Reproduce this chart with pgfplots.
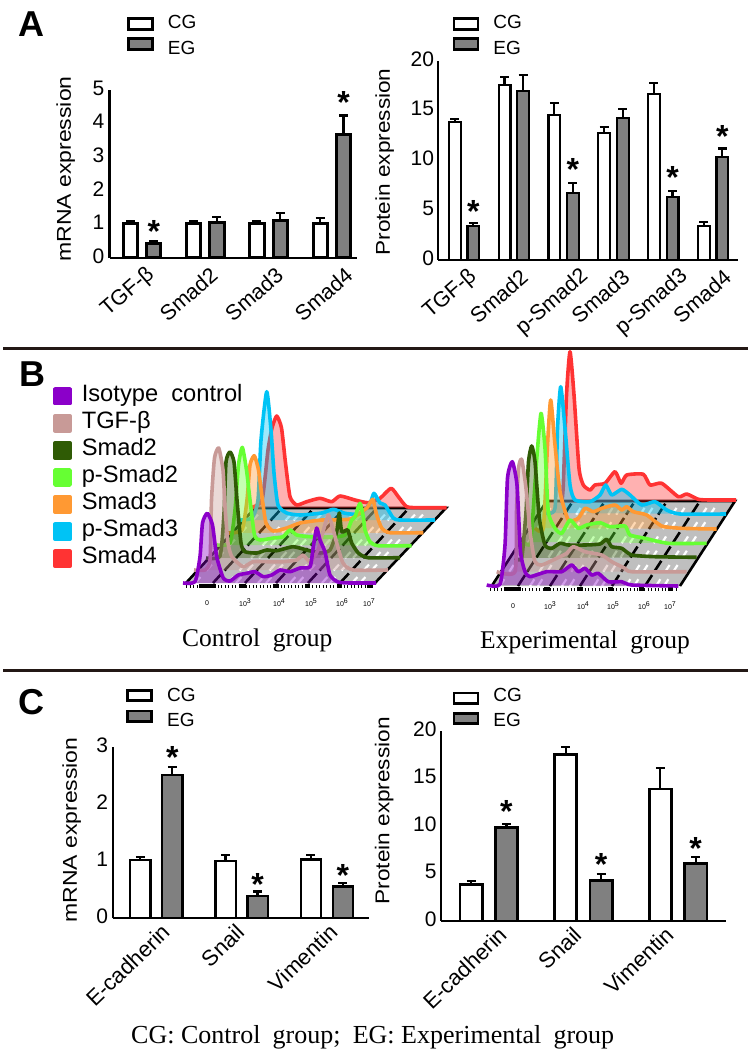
\documentclass[border=0pt]{standalone}
\usepackage{fontspec}
\usepackage{pgfplots}
\pgfplotsset{compat=1.18}
\setmainfont{Liberation Sans}
\newfontfamily\timesf{Liberation Serif}
\newcommand{\fs}[1]{\fontsize{#1}{#1}\selectfont}
\definecolor{cPur}{HTML}{8B00C9}
\definecolor{cTgf}{HTML}{C89A97}
\definecolor{cDkg}{HTML}{2F5B05}
\definecolor{cGrn}{HTML}{66FF33}
\definecolor{cOrg}{HTML}{FF9933}
\definecolor{cCya}{HTML}{00C3F5}
\definecolor{cRed}{HTML}{FF3333}
\definecolor{cBar}{HTML}{808080}
\definecolor{cRule}{HTML}{231815}
\pgfplotsset{
 legbox/.style 2 args={legend image code/.code={\draw[line width=2.8pt,draw=black,##1] (1pt,#1) rectangle (25pt,#2);}},
 barax/.style={scale only axis, clip=false, axis lines=left, axis line style={line width=2.3pt,-},
   ymin=0, major tick length=0pt, ybar,
   ticklabel style={font=\fs{21}},
   /pgf/number format/assume math mode=true,
   yticklabel style={inner sep=0pt,xshift=-5pt,yshift=2pt},
   xticklabel style={font=\fs{21.5},rotate=41,anchor=east,inner sep=0pt,yshift=-18pt},
   legend style={draw=none,fill=none,inner sep=0pt,row sep=6pt,font=\fs{19},
     nodes={inner sep=0pt,text height=14pt,text depth=0pt},
     /tikz/every odd column/.append style={column sep=14pt},legend cell align=left,anchor=north west},
   error bars/y dir=plus, error bars/y explicit,
   error bars/error bar style={line width=2.2pt,black},
   error bars/error mark options={black,line width=2.2pt,mark size=4.5pt,rotate=90}},
 hist/.style={scale only axis,hide axis,clip=false,at={(0pt,0pt)},anchor=south west,width=750pt,height=1052pt,
   xmin=0,xmax=750,ymin=0,ymax=1052,y dir=reverse,unbounded coords=jump},
 cur/.style={draw=#1,fill=#1,fill opacity=.38,line width=3.6pt,smooth,tension=.35,line join=round,
   legend image code/.code={\fill[#1,fill opacity=1] (0pt,-8pt) rectangle (15pt,7pt);}},
 hatchw/.style={forget plot,white,line width=2.2pt,dash pattern=on 8pt off 9pt},
 hatchk/.style={forget plot,black,line width=2.6pt,dash pattern=on 13pt off 4pt}
}
\newcommand{\sstar}[2]{\node[inner sep=0pt,anchor=base,yshift=-15pt,font=\fs{32}\bfseries] at (axis cs:#1,#2) {*};}
\newcommand{\letter}[3]{\node[inner sep=0pt,anchor=base west,font=\fs{36}\bfseries] at (#1pt,#2pt) {#3};}
\begin{document}
\begin{tikzpicture}[x=1pt,y=1pt]
\useasboundingbox (0,0) rectangle (750,1052);
\draw[cRule,line width=3pt] (3,703) -- (748,703);
\draw[cRule,line width=3pt] (3,381) -- (748,381);
\letter{18}{1015}{A}
\letter{19}{665}{B}
\letter{18}{337}{C}

% ---------- A left
\begin{axis}[barax,at={(109.5pt,794pt)},anchor=south west,width=247.5pt,height=168pt,
  xmin=-.513,xmax=3.397,ymax=5,ytick={0,1,2,3,4,5},
  xtick={-.036,.956,1.99,3.09},xticklabels={TGF-β,Smad2,Smad3,Smad4},
  ylabel={\scalebox{1.15}[1]{\fs{20}mRNA expression}},
  ylabel style={at={(-.177,.53)},anchor=center},
  legend style={at={(.07,1.452)}}]
\addplot[legbox={-8.3pt}{2.9pt},bar shift=-11.7pt,bar width=14.3pt,draw=black,fill=white,line width=3pt]
 coordinates {(0,1.02) +- (0,.07) (1,1.02) +- (0,.08) (2,1.02) +- (0,.07) (3,1.04) +- (0,.15)};
\addplot[legbox={-2.3pt}{8.9pt},bar shift=11.7pt,bar width=14.3pt,draw=black,fill=cBar,line width=3pt]
 coordinates {(0,.43) +- (0,.07) (1,1.06) +- (0,.16) (2,1.12) +- (0,.22) (3,3.69) +- (0,.55)};
\legend{CG,EG}
\sstar{.187}{.92}\sstar{3.187}{4.75}
\end{axis}

% ---------- A right
\begin{axis}[barax,at={(438.3pt,792pt)},anchor=south west,width=299.7pt,height=199pt,
  xmin=-.516,xmax=5.502,ymax=20,ytick={0,5,10,15,20},
  xtick={-.04,.98,2.2,3.02,4.2,5.06},xticklabels={TGF-β,Smad2,p-Smad2,Smad3,p-Smad3,Smad4},
  ylabel={\scalebox{1.13}[1]{\fs{20}Protein expression}},
  ylabel style={at={(-.179,.4925)},anchor=center},
  yticklabel style={xshift=1pt},
  legend style={at={(.047,1.2364)}}]
\addplot[legbox={-8.3pt}{2.9pt},bar shift=-9.3pt,bar width=11.8pt,draw=black,fill=white,line width=2.2pt]
 coordinates {(0,13.84) +- (0,.33) (1,17.6) +- (0,.76) (2,14.6) +- (0,1.15) (3,12.76) +- (0,.57) (4,16.7) +- (0,1.1) (5,3.42) +- (0,.38)};
\addplot[legbox={-2.3pt}{8.9pt},bar shift=9.3pt,bar width=11.8pt,draw=black,fill=cBar,line width=2.2pt]
 coordinates {(0,3.45) +- (0,.3) (1,17) +- (0,1.6) (2,6.7) +- (0,1.07) (3,14.24) +- (0,.96) (4,6.37) +- (0,.56) (5,10.35) +- (0,.85)};
\legend{CG,EG}
\sstar{.187}{5.3}\sstar{2.187}{9.48}\sstar{4.187}{8.7}\sstar{5.187}{12.83}
\end{axis}

% ---------- C left
\begin{axis}[barax,at={(113.3pt,133.7pt)},anchor=south west,width=255.7pt,height=171pt,
  xmin=-.504,xmax=2.494,ymax=3,ytick={0,1,2,3},
  xtick={.02,.89,1.98},xticklabels={E-cadherin,Snail,Vimentin},
  xticklabel style={font=\fs{22},rotate=3,yshift=5pt},
  ylabel={\scalebox{1.15}[1]{\fs{20}mRNA expression}},
  ylabel style={at={(-.163,.516)},anchor=center},
  legend style={row sep=7.5pt,at={(.05,1.349)}}]
\addplot[legbox={-5.9pt}{4.6pt},bar shift=-16pt,bar width=20.3pt,draw=black,fill=white,line width=2.4pt]
 coordinates {(0,1.02) +- (0,.06) (1,1.01) +- (0,.1) (2,1.035) +- (0,.07)};
\addplot[legbox={-1.6pt}{8.9pt},bar shift=16pt,bar width=20.3pt,draw=black,fill=cBar,line width=2.4pt]
 coordinates {(0,2.51) +- (0,.15) (1,.39) +- (0,.08) (2,.555) +- (0,.06)};
\legend{CG,EG}
\sstar{.187}{2.89}\sstar{1.187}{.66}\sstar{2.187}{.82}
\end{axis}

% ---------- C right
\begin{axis}[barax,at={(440.7pt,131pt)},anchor=south west,width=285pt,height=190pt,
  xmin=-.508,xmax=2.504,ymax=20,ytick={0,5,10,15,20},
  xtick={.065,.853,1.823},xticklabels={E-cadherin,Snail,Vimentin},
  xticklabel style={font=\fs{22},rotate=3,yshift=5pt},
  ylabel={\scalebox{1.13}[1]{\fs{20}Protein expression}},
  ylabel style={at={(-.198,.58)},anchor=center},
  yticklabel style={xshift=1pt},
  legend style={row sep=7pt,at={(.041,1.228)}}]
\addplot[legbox={-8.6pt}{1.9pt},bar shift=-17.7pt,bar width=22.3pt,draw=black,fill=white,line width=2.7pt]
 coordinates {(0,3.86) +- (0,.32) (1,17.5) +- (0,.8) (2,13.9) +- (0,2.24)};
\addplot[legbox={-4.3pt}{6.2pt},bar shift=17.7pt,bar width=22.3pt,draw=black,fill=cBar,line width=2.7pt]
 coordinates {(0,9.86) +- (0,.32) (1,4.25) +- (0,.7) (2,6.04) +- (0,.66)};
\legend{CG,EG}
\sstar{.187}{11.93}\sstar{1.187}{6.42}\sstar{2.187}{8.1}
\end{axis}

% ---------- B left group (page-pixel coordinates)
\begin{axis}[hist,reverse legend,
  legend style={at={(53/750,1-385/1052)},anchor=north west,draw=none,fill=none,inner sep=0pt,row sep=6.1pt,font=\fs{23.7},
   nodes={inner sep=0pt,text height=16pt,text depth=5pt},/tikz/every odd column/.append style={column sep=10pt},legend cell align=left}]
\addplot[forget plot,draw=none,fill=black!25] coordinates {(186,583) (375,583) (446,508) (255,508)};
\addplot[hatchw] coordinates {
 (195,583) (264,508) (nan,nan) (228,583) (297,508) (nan,nan) (236,583) (305,508) (nan,nan) (258,583) (327,508) (nan,nan) (266,583) (335,508) (nan,nan)
 (290,583) (359,508) (nan,nan) (298,583) (367,508) (nan,nan) (322,583) (391,508) (nan,nan) (330,583) (399,508) (nan,nan) (352,583) (421,508) (nan,nan) (360,583) (429,508)};
\addplot[hatchk] coordinates {
 (213,583) (282,508) (nan,nan) (245,583) (314,508) (nan,nan) (276,583) (345,508) (nan,nan) (308,583) (377,508) (nan,nan) (340,583) (409,508)};
\addplot[forget plot,black,line width=2.6pt] coordinates {(186,583) (255,508) (446,508) (375,583)};
\addplot[forget plot,black,line width=3pt,dash pattern=on 1pt off 2.5pt] coordinates {(186,586) (375,586)};
\addplot[forget plot,black,line width=4pt] coordinates {(199,586) (216,586)};
\addplot[forget plot,black,line width=4pt] coordinates {(239,586) (246,586) (nan,nan) (273,586) (279,586) (nan,nan) (305,586) (310,586) (nan,nan) (337,586) (342,586) (nan,nan) (367,586) (372,586)};
\addplot[cur=cRed] coordinates {(250,508) (262,500) (268,450) (272,428) (276.7,416) (281.5,428) (285.5,463) (290,496.7) (296.7,505) (306.7,501.7) (320,498.3) (331.7,501.7) (340,496) (355,500) (368,502.7) (380,498.3) (391,488.3) (398.3,496.7) (406.7,506.7) (420,507.7) (446.7,507.7)};
\addplot[cur=cCya] coordinates {(240,520) (252,518) (258,500) (261,440) (266.7,391.7) (271,430) (274,473) (278,505) (286.7,513) (300,515) (321.7,513) (333.3,509.3) (345,513.3) (360,514) (370,503.3) (374,493.3) (380,503) (385,505) (393.3,518) (400,520) (435,520)};
\addplot[cur=cOrg] coordinates {(228,533) (242,530) (247,500) (250,465) (254.3,455.7) (258.5,470) (262,496.7) (266,523) (273.3,531) (286.7,528) (300,523) (321.7,520) (350,519) (366.7,508) (372.7,499.3) (376.7,515) (381.7,528) (390,532.7) (423.3,532.7)};
\addplot[cur=cGrn] coordinates {(217,545) (230,543) (235,510) (238.5,465) (242.3,447.3) (246.5,470) (250,500) (254.5,535) (260,540) (273.3,538) (283,536.7) (290,530) (296.7,535) (310,536.7) (330,537) (345,535) (351.7,520) (355,516.7) (360,503.3) (363.3,516.7) (365,530) (370,541.7) (378,545.7) (411.7,545.7)};
\addplot[cur=cDkg] coordinates {(206,558) (220,556) (224,513) (226,462) (230,452) (234,462) (237,500) (241,543) (245,551.7) (256.7,553) (266.7,550) (276.7,550.7) (293,546.7) (306.7,550) (320,553) (330,550) (336.7,531.7) (339.3,513) (341.7,531.7) (347.7,530) (351.7,543) (358.3,553) (368,557.7) (400,557.7)};
\addplot[cur=cTgf] coordinates {(194,570) (205,570) (210,560) (211.5,500) (214.5,458) (218.7,448) (223,470) (225,507) (228,543) (232,557) (243,566.7) (253,561.7) (266.7,561.7) (283,561.7) (296.7,560) (303,555) (310,561.7) (318,550) (323,531.7) (328.3,515) (333.3,530) (336.7,543) (343,563) (353,570) (388,570)};
\addplot[cur=cPur] coordinates {(183,583) (195,581.7) (200,556.7) (202.5,523) (207.3,513.3) (212.5,525) (216.7,556.7) (223.3,578) (230,581) (238.3,575) (246.7,573.3) (255,571.7) (263.3,576.7) (271.7,575) (280,570) (290,571.7) (300,568) (310,566.7) (313.3,546.7) (316.7,528) (320,540) (325,552) (330,575) (338,582) (350,583) (376,583)};
\legend{Smad4,p-Smad3,Smad3,p-Smad2,Smad2,TGF-β,Isotype\ \ control}
\node[font=\fs{7}] at (axis cs:207,603) {0};
\node[font=\fs{7}] at (axis cs:245,603) {10\raisebox{3pt}{3}};
\node[font=\fs{7}] at (axis cs:279,603) {10\raisebox{3pt}{4}};
\node[font=\fs{7}] at (axis cs:311,603) {10\raisebox{3pt}{5}};
\node[font=\fs{7}] at (axis cs:342,603) {10\raisebox{3pt}{6}};
\node[font=\fs{7}] at (axis cs:369,603) {10\raisebox{3pt}{7}};
\node[anchor=base west,inner sep=0pt,font=\timesf\fs{25.5}] at (axis cs:182,646) {Control\hspace{.25em} group};
\end{axis}

% ---------- B right group
\begin{axis}[hist]
\addplot[forget plot,draw=none,fill=black!25] coordinates {(491.7,586) (680,586) (735,501) (546.7,501)};
\addplot[hatchw] coordinates {
 (500,586) (555,501) (nan,nan) (530,586) (585,501) (nan,nan) (538,586) (593,501) (nan,nan) (562,586) (617,501) (nan,nan) (570,586) (625,501) (nan,nan)
 (594,586) (649,501) (nan,nan) (602,586) (657,501) (nan,nan) (626,586) (681,501) (nan,nan) (634,586) (689,501) (nan,nan) (656,586) (711,501) (nan,nan) (664,586) (719,501)};
\addplot[hatchk] coordinates {
 (518,586) (573,501) (nan,nan) (550,586) (605,501) (nan,nan) (580,586) (635,501) (nan,nan) (612,586) (667,501) (nan,nan) (645,586) (700,501)};
\addplot[forget plot,black,line width=2.6pt] coordinates {(491.7,586) (546.7,501) (735,501) (680,586)};
\addplot[forget plot,black,line width=3pt,dash pattern=on 1pt off 2.5pt] coordinates {(490,589) (677,589)};
\addplot[forget plot,black,line width=4pt] coordinates {(504,589) (521,589)};
\addplot[forget plot,black,line width=4pt] coordinates {(544,589) (550,589) (nan,nan) (577,589) (583,589) (nan,nan) (608,589) (613,589) (nan,nan) (639,589) (644,589) (nan,nan) (668,589) (673,589)};
\addplot[cur=cRed] coordinates {(561.7,503) (563.3,485) (566.5,395) (570,351.7) (574,395) (579,468.3) (583.3,485) (590,490) (595,485) (605,483.3) (615,471.7) (621,483.3) (626.7,475) (643.3,474.3) (650,485) (661.7,483.3) (678.3,496.7) (686.7,494) (698.3,499.3) (710,500) (736,500)};
\addplot[cur=cCya] coordinates {(545,513) (555,508) (557.5,428) (560.7,386.7) (565,428) (570,485) (575,500) (590,501.7) (600,495) (605.7,485) (611.7,495) (621.7,489.3) (630,495) (641.7,505) (655,501.7) (666.7,510) (680,514) (726,514)};
\addplot[cur=cOrg] coordinates {(535,528) (543.3,528) (547.5,445) (550.7,400) (555,445) (560,491.7) (568.3,520) (578.3,518.3) (585,508.3) (593.3,511.7) (601.7,508.3) (615,505) (621.7,510) (626.7,506.7) (633.3,511.7) (646.7,515) (661.7,526) (681.7,528.3) (716.7,529)};
\addplot[cur=cGrn] coordinates {(524,542) (530.7,541.7) (536.5,461.7) (541,413.3) (545,448.3) (548.3,511.7) (555,528.3) (561.7,533.3) (570,520) (578.3,528.3) (586.7,525) (600,522.7) (610,526.7) (625,526) (630,535) (645,538.3) (668.3,543.3) (706.7,543.3)};
\addplot[cur=cDkg] coordinates {(515,558) (521.7,558) (526,511.7) (528.5,461.7) (531.7,446) (535,461.7) (539.3,518) (545,545) (551.7,548.3) (560,543.3) (568.3,545) (585,545) (600,544) (606.7,539.3) (611.7,546.7) (621.7,548.3) (631.7,555) (655,556.7) (696.7,557.3)};
\addplot[cur=cTgf] coordinates {(496.7,571.7) (515,571.7) (516.5,511.7) (518.5,468.3) (521.7,459.3) (526,488.3) (530.5,535) (535,561.7) (541.7,565) (556.7,558.3) (566.7,553.3) (573.3,546.7) (585,551.7) (601.7,555) (611.7,561.7) (625,568.3) (631.7,571.7) (686.7,571.7)};
\addplot[cur=cPur] coordinates {(486.7,585) (500,584.3) (505,545) (507.5,478) (512.3,461.7) (517,485) (520.5,551.7) (525,571.7) (530,576.7) (546.7,571.7) (561.7,571.7) (571.7,565) (578.3,571.7) (585,568.3) (591.7,575) (598.3,573.3) (608.3,581.7) (621.7,581.7) (631.7,585) (678.3,586)};
\node[font=\fs{7}] at (axis cs:513,606) {0};
\node[font=\fs{7}] at (axis cs:550,606) {10\raisebox{3pt}{3}};
\node[font=\fs{7}] at (axis cs:583,606) {10\raisebox{3pt}{4}};
\node[font=\fs{7}] at (axis cs:613,606) {10\raisebox{3pt}{5}};
\node[font=\fs{7}] at (axis cs:644,606) {10\raisebox{3pt}{6}};
\node[font=\fs{7}] at (axis cs:670,606) {10\raisebox{3pt}{7}};
\node[anchor=base west,inner sep=0pt,font=\timesf\fs{25.5}] at (axis cs:480,648) {Experimental\hspace{.25em} group};
\end{axis}

\node[anchor=base west,inner sep=0pt,font=\timesf\fs{26}] at (131,9) {CG: Control\hspace{.22em} group;\hspace{.22em} EG: Experimental\hspace{.22em} group};
\end{tikzpicture}
\end{document}
